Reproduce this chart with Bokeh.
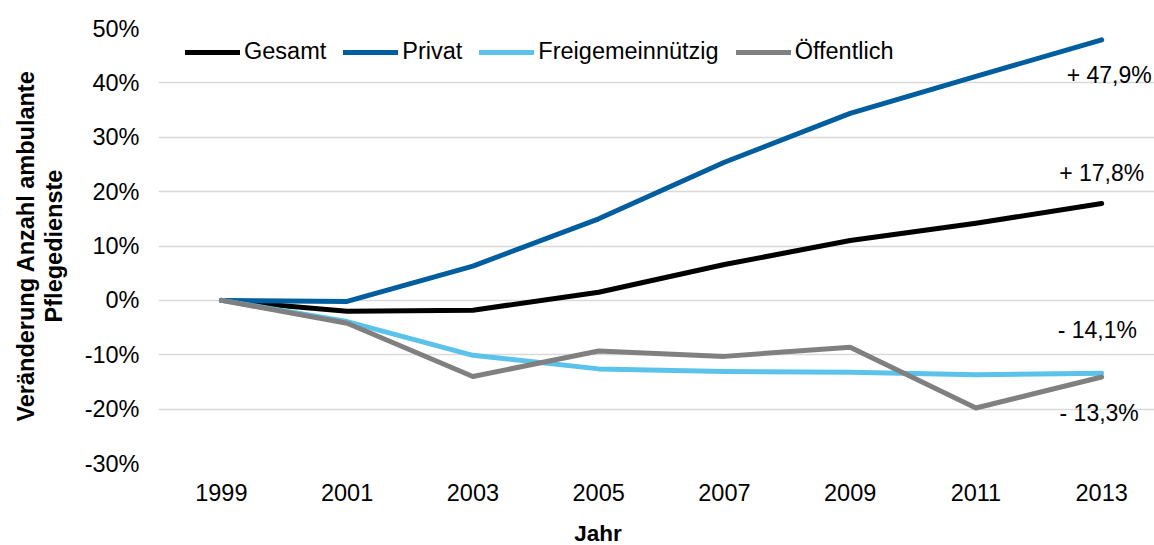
from bokeh.plotting import figure
from bokeh.models import Range1d, FixedTicker, PrintfTickFormatter, Legend, LegendItem, ColumnDataSource, Div
from bokeh.layouts import column
from bokeh.core.properties import value
from bokeh.embed import file_html
from bokeh.resources import INLINE

years = ["1999", "2001", "2003", "2005", "2007", "2009", "2011", "2013"]
gesamt = [0.0, -2.0, -1.8, 1.5, 6.6, 11.0, 14.2, 17.8]
privat = [0.0, -0.2, 6.3, 15.0, 25.4, 34.4, 41.2, 47.9]
freigemein = [0.0, -3.9, -10.1, -12.6, -13.1, -13.2, -13.7, -13.4]
oeffentlich = [0.0, -4.2, -14.0, -9.3, -10.3, -8.6, -19.8, -14.1]

series_names = ["Gesamt", "Privat", "Freigemeinnützig", "Öffentlich"]
series_vals = [gesamt, privat, freigemein, oeffentlich]
series_colors = ["#000000", "#005D9E", "#5BC3EA", "#808080"]

ann_text = ["+ 47,9%", "+ 17,8%", "- 14,1%", "- 13,3%"]
ann_x = [7.06, 7.0, 6.965, 6.98]
ann_y = [41.4, 23.5, -5.5, -20.8]

x_title = "Jahr"
y_title = "Veränderung Anzahl ambulante\nPflegedienste"

FONT = "Liberation Sans"
FS = "23.5px"
x = list(range(len(years)))

p = figure(width=1154, height=520, output_backend="svg", toolbar_location=None,
           x_range=Range1d(-0.5, 7.42), y_range=Range1d(-30, 50),
           min_border_left=158, min_border_right=0, min_border_top=28, min_border_bottom=57)
p.outline_line_color = None
p.background_fill_color = "white"
p.border_fill_color = "white"

renderers = []
for name, vals, col in zip(series_names, series_vals, series_colors):
    r = p.line(x, vals, line_color=col, line_width=5, line_cap="round", line_join="round")
    renderers.append((name, r))

src = ColumnDataSource(dict(x=ann_x, y=ann_y, t=ann_text))
p.text(x="x", y="y", text="t", source=src, text_align="center", text_baseline="middle",
       text_font=value(FONT), text_font_size="23px", text_color="#000000")

p.xgrid.visible = False
p.ygrid.grid_line_color = "#d9d9d9"
p.ygrid.grid_line_width = 1.5
p.yaxis.ticker = FixedTicker(ticks=[-30, -20, -10, 0, 10, 20, 30, 40, 50])
p.yaxis.formatter = PrintfTickFormatter(format="%d%%")
p.xaxis.ticker = FixedTicker(ticks=x)
p.xaxis.major_label_overrides = {i: y for i, y in enumerate(years)}

for ax in (p.xaxis[0], p.yaxis[0]):
    ax.axis_line_color = None
    ax.major_tick_line_color = None
    ax.minor_tick_line_color = None
    ax.major_label_text_font = FONT
    ax.major_label_text_font_size = FS
    ax.major_label_text_color = "#000000"
    ax.axis_label_text_font = FONT
    ax.axis_label_text_font_style = "bold"
    ax.axis_label_text_font_size = FS
    ax.axis_label_text_color = "#000000"

p.xaxis.major_label_standoff = 14
p.yaxis.axis_label = y_title
p.yaxis.axis_label_text_line_height = 1.06
p.yaxis.major_label_standoff = 13
p.yaxis.axis_label_standoff = 15

legend = Legend(items=[LegendItem(label=n, renderers=[r]) for n, r in renderers],
                orientation="horizontal", location=(27, 398),
                glyph_width=55, glyph_height=20, label_standoff=4, spacing=17,
                padding=2, margin=0, border_line_color=None, background_fill_alpha=0,
                label_text_font=FONT, label_text_font_size=FS, label_text_color="#000000")
p.add_layout(legend, "center")

jahr = Div(text=x_title, width=60, height=22, margin=(3, 0, 0, 568),
           styles={"font-family": FONT, "font-size": "22.5px", "font-weight": "bold",
                   "line-height": "22px", "text-align": "center", "color": "#000000"})

layout = column(p, jahr, spacing=0)
open("out.html", "w").write(file_html(layout, INLINE))
